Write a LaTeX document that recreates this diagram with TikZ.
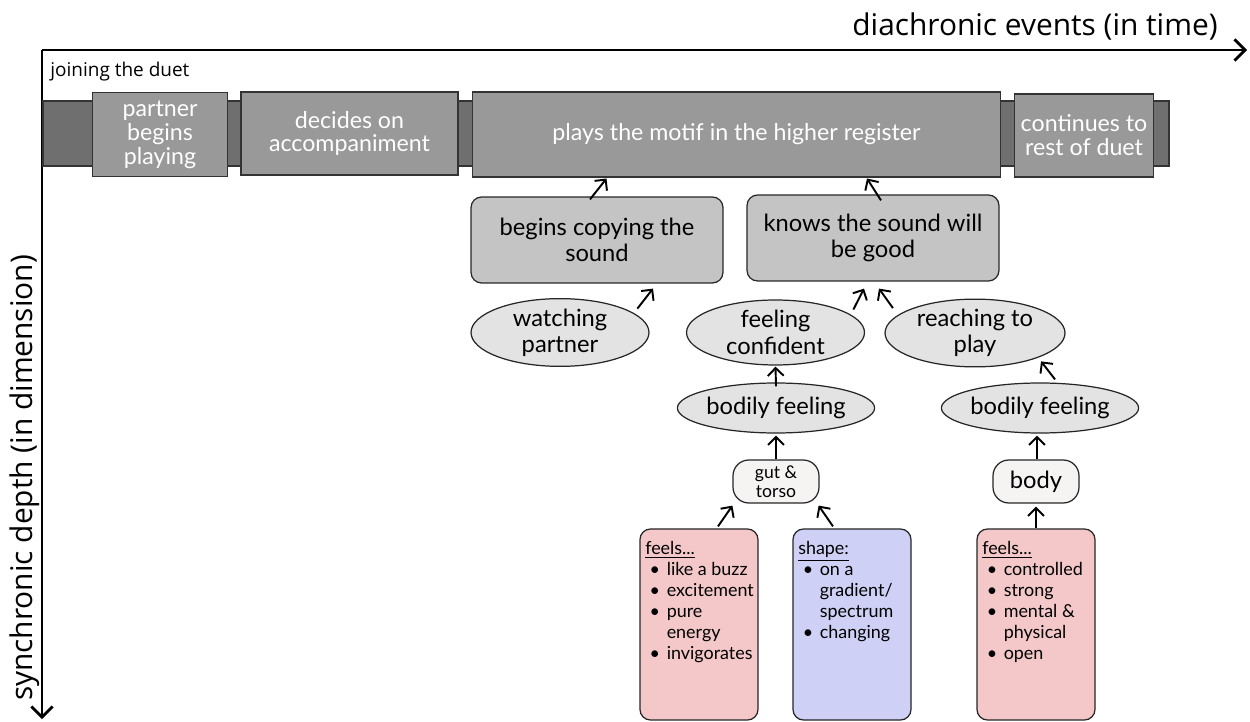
\documentclass[tikz,border=0pt]{standalone}
\usepackage{fontspec}
\setmainfont{Lato}
\newfontfamily\axisfont{Open Sans}
\usetikzlibrary{arrows.meta,calc,shapes.geometric}

\definecolor{stripgray}{HTML}{6F6F6F}
\definecolor{eventgray}{HTML}{999999}
\definecolor{boxgray}{HTML}{C4C4C4}
\definecolor{ovalgray}{HTML}{E4E3E3}
\definecolor{pillgray}{HTML}{F6F3F3}
\definecolor{feelpink}{HTML}{F4C8C8}
\definecolor{shapeblue}{HTML}{CFD0F5}

\newcommand{\bul}{\makebox[1.2em][l]{\hspace{0.25em}\textbullet}}
\newcommand{\nob}{\makebox[1.2em]{}}

\tikzset{
  axis/.style={line width=1.6pt, -{Straight Barb[length=6pt,width=12pt]}},
  arr/.style={line width=1.1pt, -{Straight Barb[length=4.5pt,width=9pt]}},
  event/.style={draw=black!80, line width=0.6pt, fill=eventgray, text=white, align=center,
    inner sep=0pt, font=\fontsize{13.2}{13.6}\selectfont},
  subbox/.style={draw=black!85, line width=0.7pt, fill=boxgray, rounded corners=6pt, align=center,
    inner sep=0pt, minimum width=5.04cm, minimum height=1.72cm, font=\fontsize{13.5}{15}\selectfont},
  oval/.style={draw=black!85, line width=0.7pt, fill=ovalgray, ellipse, align=center,
    inner sep=0pt, minimum width=3.56cm, font=\fontsize{13.5}{15}\selectfont},
  pill/.style={draw=black!85, line width=0.7pt, fill=pillgray, rounded corners=9pt, align=center,
    inner sep=0pt, minimum width=1.72cm, minimum height=0.86cm},
  note/.style={draw=black!85, line width=0.7pt, rounded corners=6pt, inner sep=3pt,
    font=\fontsize{10.2}{12}\selectfont},
}

\begin{document}
\begin{tikzpicture}[x=0.02cm, y=-0.02cm]
\useasboundingbox (0,0) rectangle (1250,722);

% axes
\coordinate (o) at (42,50);
\coordinate (tend) at (1247,50);
\coordinate (dend) at (42,719);
\draw[axis] (o) -- (tend);
\draw[axis] (o) -- (dend);
\node[anchor=base east, inner sep=0pt, font=\axisfont\fontsize{17}{19}\selectfont] (tlabel) at (1218,36) {diachronic events (in time)};
\node[anchor=base, inner sep=0pt, rotate=90, font=\axisfont\fontsize{17}{19}\selectfont] (dlabel) at (32,478) {synchronic depth (in dimension)};
\node[anchor=base west, inner sep=0pt, font=\axisfont\fontsize{10.8}{12}\selectfont] (join) at (50,77) {joining the duet};

% timeline
\filldraw[fill=stripgray, draw=black!80, line width=0.6pt] (43,101) rectangle (1169,166);
\node[event, minimum width=2.7cm, minimum height=1.68cm] (partner) at (160,134.5) {partner\\begins\\playing};
\node[event, minimum width=4.34cm, minimum height=1.66cm] (decides) at (349.5,133.5) {decides on\\accompaniment};
\node[event, minimum width=10.58cm, minimum height=1.7cm] (plays) at (736.5,134.5) {plays the motif in the higher register};
\node[event, minimum width=2.78cm, minimum height=1.66cm] (cont) at (1084,135.5) {continues to\\rest of duet};

% depth
\node[subbox] (copy) at (597,240) {begins copying the\\sound};
\node[subbox] (knows) at (873,238) {knows the sound will\\be good};
\node[oval, minimum height=1.3cm] (watch) at (560,332.5) {watching\\partner};
\node[oval, minimum height=1.3cm] (conf) at (775.5,332.5) {feeling\\confident};
\node[oval, minimum height=1.3cm, minimum width=3.6cm] (reach) at (975,333) {reaching to\\play};
\node[oval, minimum height=1cm] (body1) at (776,408) {bodily feeling};
\node[oval, minimum height=1cm] (body2) at (1040,408) {bodily feeling};
\node[pill, font=\fontsize{10}{11}\selectfont] (gut) at (776,481.5) {gut \&\\torso};
\node[pill, font=\fontsize{13.5}{15}\selectfont] (bodyp) at (1036,481.5) {body};

\node[note, fill=feelpink] (feel1) at (699,624.5) {\parbox[c][3.61cm][t]{2.15cm}{\raggedright\vspace*{4pt}%
  \underline{feels...}\\\bul like a buzz\\\bul excitement\\\bul pure\\\nob energy\\\bul invigorates}};
\node[note, fill=shapeblue] (shape) at (852,624.5) {\parbox[c][3.61cm][t]{2.15cm}{\raggedright\vspace*{4pt}%
  \underline{shape:}\\\bul on a\\\nob gradient/\\\nob spectrum\\\bul changing}};
\node[note, fill=feelpink] (feel2) at (1036,624.5) {\parbox[c][3.61cm][t]{2.15cm}{\raggedright\vspace*{4pt}%
  \underline{feels...}\\\bul controlled\\\bul strong\\\bul mental \&\\\nob physical\\\bul open}};

% arrows
\draw[arr] ($(copy.north)+(-7,3)$) -- ($(plays.south)+(-130,1)$);
\draw[arr] ($(knows.north)+(8,6)$) -- ($(plays.south)+(130.5,1)$);
\draw[arr] ($(watch.north east)+(14,0.5)$) -- ($(copy.south)+(56,5)$);
\draw[arr] ($(conf.north east)+(14.5,0.5)$) -- ($(knows.south)+(-9,7)$);
\draw[arr] ($(reach.north west)+(-18,-0.5)$) -- ($(knows.south)+(6,7)$);
\draw[arr] ($(body1.north)+(0,4)$) -- ($(conf.south)+(0,1)$);
\draw[arr] ($(body2.north)+(15,-3)$) -- ($(reach.south east)+(2,4)$);
\draw[arr] (gut.north) -- ($(body1.south)+(0,2)$);
\draw[arr] ($(bodyp.north)+(1,0)$) -- ($(body2.south)+(-3,2)$);
\draw[arr] ($(feel1.north)+(19,-2)$) -- ($(gut.south west)+(0,2)$);
\draw[arr] ($(shape.north)+(-19,-2)$) -- ($(gut.south east)+(-1,2)$);
\draw[arr] (feel2.north) -- ($(bodyp.south)+(0,3)$);
\end{tikzpicture}
\end{document}
